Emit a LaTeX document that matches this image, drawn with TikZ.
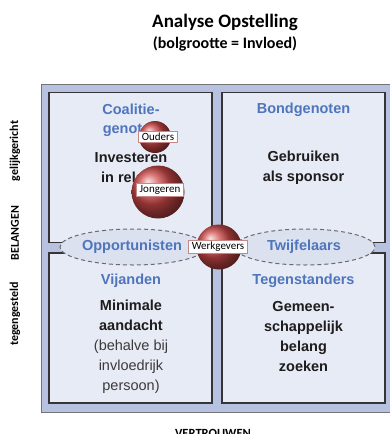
\documentclass[tikz,border=0pt]{standalone}
\usepackage{fontspec}
\setmainfont{Carlito}
\newfontfamily\quadfont{Liberation Sans}
\usepackage{tikz}
\usetikzlibrary{positioning,shapes.geometric}
\definecolor{aoFrame}{RGB}{182,194,224}
\definecolor{aoFrameEdge}{RGB}{115,115,120}
\definecolor{aoLight}{RGB}{231,235,246}
\definecolor{aoEdge}{RGB}{55,52,55}
\definecolor{aoOval}{RGB}{219,225,239}
\definecolor{aoDash}{RGB}{105,105,110}
\definecolor{aoBlue}{RGB}{79,117,188}
\definecolor{aoText}{RGB}{30,28,28}
\definecolor{aoSoft}{RGB}{60,58,58}
\definecolor{aoRed}{RGB}{205,72,72}
\definecolor{aoTag}{RGB}{200,135,135}

\begin{document}
\begin{tikzpicture}[
    x=1pt, y=-1pt,
    quad/.style={rectangle, draw=aoEdge, line width=1.3pt, fill=aoLight, minimum width=163pt, minimum height=150pt, inner sep=0pt},
    head/.style={font=\quadfont\fontsize{14.5}{19.5}\selectfont\bfseries, text=aoBlue, align=center},
    body/.style={font=\quadfont\fontsize{14.5}{20}\selectfont, text=aoText, align=center},
    camp/.style={ellipse, draw=aoDash, line width=1pt, dash pattern=on 4pt off 3pt, fill=aoOval, minimum height=36pt, inner sep=0pt},
    ball/.style={circle, shading=ball, ball color=aoRed, inner sep=0pt},
    tag/.style={rectangle, fill=white, draw=aoTag, line width=0.6pt, font=\fontsize{11}{13}\selectfont, inner xsep=3.5pt, inner ysep=1.8pt},
    side/.style={font=\fontsize{12}{14}\selectfont\bfseries, rotate=90}
]
  \useasboundingbox (0,0) rectangle (390,434);

  \node[font=\fontsize{19}{22}\selectfont\bfseries] (title) at (225,22) {Analyse Opstelling};
  \node[font=\fontsize{16}{19}\selectfont\bfseries] (subtitle) at (225,44) {(bolgrootte = Invloed)};

  \node[rectangle, draw=aoFrameEdge, line width=1pt, fill=aoFrame, minimum width=356pt, minimum height=328pt, inner sep=0pt] (frame) at (219,248) {};

  \node[quad] (tl) at (130.5,167.5) {};
  \node[quad] (tr) at (303.5,167.5) {};
  \node[quad] (bl) at (130.5,328) {};
  \node[quad] (br) at (303.5,328) {};

  \node[head] (coalitie) at (131,120.5) {Coalitie-\\genoten};
  \node[head] (bond) at (303.5,110) {Bondgenoten};
  \node[head] (vijand) at (131,281) {Vijanden};
  \node[head] (tegen) at (303.5,281) {Tegenstanders};

  \node[body, font=\quadfont\fontsize{14.5}{20}\selectfont\bfseries] (invest) at (131,168) {Investeren\\in relatie};
  \node[body, font=\quadfont\fontsize{14.5}{20}\selectfont\bfseries] (sponsor) at (303.5,168) {Gebruiken\\als sponsor};
  \node[body] (minimaal) at (131,347) {\bfseries Minimale\\\bfseries aandacht\\{\color{aoSoft}(behalve bij}\\{\color{aoSoft}invloedrijk}\\{\color{aoSoft}persoon)}};
  \node[body, font=\quadfont\fontsize{14.5}{19.7}\selectfont\bfseries] (gemeen) at (303.5,336.5) {Gemeen-\\schappelijk\\belang\\zoeken};

  \node[camp, minimum width=146pt] (opport) at (133,247) {};
  \node[camp, minimum width=140pt] (twijfel) at (305,247) {};
  \node[head] (opportT) at (132,247) {Opportunisten};
  \node[head] (twijfelT) at (304,247) {Twijfelaars};

  \node[ball, minimum size=32pt] (oudersB) at (155,137) {};
  \node[tag] (ouders) at (158,137) {Ouders};
  \node[ball, minimum size=53pt] (jongB) at (158,192) {};
  \node[tag] (jong) at (160,190) {Jongeren};
  \node[ball, minimum size=45pt] (werkB) at (219,247) {};
  \node[tag] (werk) at (218,247) {Werkgevers};

  \node[side] (gelijk) at (15,151) {gelijkgericht};
  \node[side] (belang) at (15,233) {BELANGEN};
  \node[side] (tegeng) at (15,314) {tegengesteld};
  \node[font=\fontsize{12.5}{14}\selectfont\bfseries] (vertr) at (213,433) {VERTROUWEN};
\end{tikzpicture}
\end{document}
